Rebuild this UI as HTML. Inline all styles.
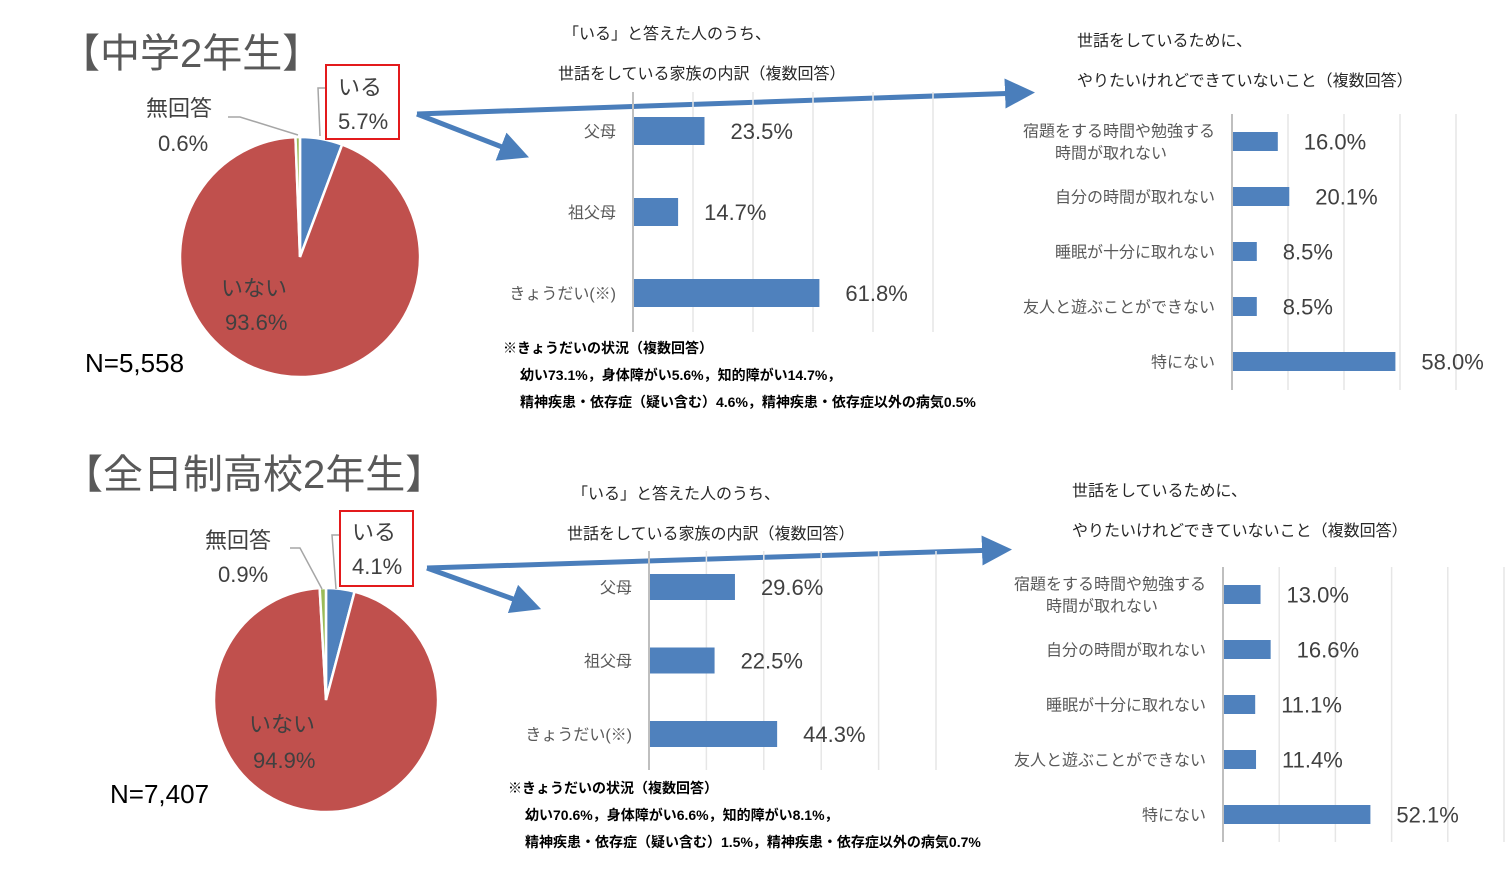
<!DOCTYPE html>
<html><head><meta charset="utf-8"><style>
html,body{margin:0;padding:0;background:#fff;}
svg{display:block;font-family:"Liberation Sans","Noto Sans CJK JP",sans-serif;}
.cat{font-size:16px;fill:#595959;}
.val{font-size:22px;fill:#404040;}
.hd{font-size:16px;fill:#262626;}
.note{font-size:14px;font-weight:bold;fill:#000;}
.ttl{font-size:40px;fill:#595959;}
.pl{font-size:22px;fill:#404040;}
</style></head><body>
<svg id="c" width="1509" height="872" viewBox="0 0 1509 872">
<defs><marker id="ah" markerWidth="6" markerHeight="6" refX="3" refY="3" orient="auto" markerUnits="strokeWidth"><path d="M0,0 L6,3 L0,6 Z" fill="#4a7ebb"/></marker></defs>
<g>
<text class="ttl" x="60" y="67">【中学2年生】</text>
<text x="85" y="372" font-size="26" fill="#000">N=5,558</text>
<text class="hd" x="563" y="39">「いる」と答えた人のうち、</text>
<text class="hd" x="558" y="79">世話をしている家族の内訳（複数回答）</text>
<text class="hd" x="1077" y="46">世話をしているために、</text>
<text class="hd" x="1077" y="86">やりたいけれどできていないこと（複数回答）</text>
<text class="note" x="503" y="353">※きょうだいの状況（複数回答）</text>
<text class="note" x="520" y="380">幼い73.1%，身体障がい5.6%，知的障がい14.7%，</text>
<text class="note" x="520" y="407">精神疾患・依存症（疑い含む）4.6%，精神疾患・依存症以外の病気0.5%</text>
</g>
<g>
<text class="ttl" x="63" y="488">【全日制高校2年生】</text>
<text x="110" y="803" font-size="26" fill="#000">N=7,407</text>
<text class="hd" x="572" y="499">「いる」と答えた人のうち、</text>
<text class="hd" x="567" y="539">世話をしている家族の内訳（複数回答）</text>
<text class="hd" x="1072" y="496">世話をしているために、</text>
<text class="hd" x="1072" y="536">やりたいけれどできていないこと（複数回答）</text>
<text class="note" x="508" y="793">※きょうだいの状況（複数回答）</text>
<text class="note" x="525" y="820">幼い70.6%，身体障がい6.6%，知的障がい8.1%，</text>
<text class="note" x="525" y="847">精神疾患・依存症（疑い含む）1.5%，精神疾患・依存症以外の病気0.7%</text>
</g>
<g>
<line x1="417" y1="114" x2="515" y2="152" stroke="#4a7ebb" stroke-width="5" marker-end="url(#ah)"/>
<line x1="417" y1="114" x2="1020" y2="93" stroke="#4a7ebb" stroke-width="5" marker-end="url(#ah)"/>
<line x1="427" y1="568" x2="527" y2="604" stroke="#4a7ebb" stroke-width="5" marker-end="url(#ah)"/>
<line x1="427" y1="568" x2="997" y2="550" stroke="#4a7ebb" stroke-width="5" marker-end="url(#ah)"/>
</g>
</svg>
<script>
const pieLabels=["いる","いない","無回答"];
const pieColors=["#4f81bd","#c0504d","#9bbb59"];
const pieMS=[5.7,93.6,0.6];
const pieHS=[4.1,94.9,0.9];
const famCats=["父母","祖父母","きょうだい(※)"];
const famMS=[23.5,14.7,61.8];
const famHS=[29.6,22.5,44.3];
const impCats=["宿題をする時間や勉強する|時間が取れない","自分の時間が取れない","睡眠が十分に取れない","友人と遊ぶことができない","特にない"];
const impMS=[16.0,20.1,8.5,8.5,58.0];
const impHS=[13.0,16.6,11.1,11.4,52.1];
const gridTicks=[0,20,40,60,80,100];

const svg=document.getElementById('c');
const NS="http://www.w3.org/2000/svg";
function mk(tag,attrs,parent){const e=document.createElementNS(NS,tag);for(const k in attrs)e.setAttribute(k,attrs[k]);(parent||svg).appendChild(e);return e;}

function pie(cx,cy,r,vals,g){
  let a=0;const tot=vals.reduce((s,v)=>s+v,0);
  vals.forEach((v,i)=>{
    const a0=a/tot*2*Math.PI,a1=(a+v)/tot*2*Math.PI;a+=v;
    const x0=cx+r*Math.sin(a0),y0=cy-r*Math.cos(a0),x1=cx+r*Math.sin(a1),y1=cy-r*Math.cos(a1);
    const p=mk('path',{d:`M${cx},${cy} L${x0},${y0} A${r},${r} 0 ${a1-a0>Math.PI?1:0} 1 ${x1},${y1} Z`,fill:pieColors[i],stroke:'#fff','stroke-width':2.5},g);
    
    
  });
}
function bars(x0,x1,yTop,yBot,firstY,step,bh,cats,vals,labelX,gridTop,gridBot,g,catSize){
  const sx=v=>x0+(x1-x0)*v/100;
  gridTicks.forEach(t=>{
    const l=mk('line',{x1:sx(t),x2:sx(t),y1:gridTop,y2:gridBot,stroke:t===0?'#bfbfbf':'#e6e6e6','stroke-width':t===0?2:1.5},g);
    
    
  });
  vals.forEach((v,i)=>{
    const y=firstY+i*step;
    const b=mk('rect',{x:sx(0)+1,y:y,width:sx(v)-sx(0),height:bh,fill:'#4f81bd'},g);
    
    
    const t=mk('text',{x:sx(v)+27,y:y+bh/2+8,class:'val'},g);t.textContent=v.toFixed(1)+'%';
    
    
    const parts=cats[i].split('|');
    parts.forEach((p,j)=>{
      const c=mk('text',{x:labelX,y:y+bh/2+6+(j-(parts.length-1)/2)*22,class:'cat','text-anchor':parts.length>1&&j===1?'middle':'end'},g);
      if(parts.length>1&&j===1)c.setAttribute('x',labelX-104);
      c.textContent=p;
      
      
    });
  });
}
function pieText(items,g){items.forEach(([s,x,y,cls,sz,nm])=>{const t=mk('text',{x:x,y:y,class:cls,'font-size':sz},g);t.textContent=s;
  
  });}

// middle school
const g1=mk('g',{});


pie(300,257,120,pieMS,g1);
mk('polyline',{points:'228,117 240,117 298,135',fill:'none',stroke:'#a6a6a6','stroke-width':1.5},g1);
mk('polyline',{points:'326,88 318,88 320,136',fill:'none',stroke:'#a6a6a6','stroke-width':1.5},g1);
mk('rect',{x:326,y:65,width:73,height:74,fill:'#fff',stroke:'#e31a1c','stroke-width':2},g1);
pieText([[pieLabels[0],338,95,'pl',24,'caring-label'],[pieMS[0].toFixed(1)+'%',338,129,'pl',22,'caring-value'],
 [pieLabels[2],146,116,'pl',24,'no-answer-label'],[pieMS[2].toFixed(1)+'%',158,151,'pl',22,'no-answer-value'],
 [pieLabels[1],221,296,'pl',24,'not-caring-label'],[pieMS[1].toFixed(1)+'%',225,330,'pl',22,'not-caring-value']],g1);
const b1=mk('g',{});
bars(633,933,0,0,117,81,28,famCats,famMS,616,92,332,b1);
const b2=mk('g',{});
bars(1232,1512,0,0,132,55,19,impCats,impMS,1215,114,390,b2);

// high school
const g2=mk('g',{});


pie(326,700,112,pieHS,g2);
mk('polyline',{points:'290,548 300,548 322,589',fill:'none',stroke:'#a6a6a6','stroke-width':1.5},g2);
mk('polyline',{points:'340,535 332,535 336,589',fill:'none',stroke:'#a6a6a6','stroke-width':1.5},g2);
mk('rect',{x:340,y:511,width:73,height:75,fill:'#fff',stroke:'#e31a1c','stroke-width':2},g2);
pieText([[pieLabels[0],352,540,'pl',24,'caring-label'],[pieHS[0].toFixed(1)+'%',352,574,'pl',22,'caring-value'],
 [pieLabels[2],205,548,'pl',24,'no-answer-label'],[pieHS[2].toFixed(1)+'%',218,582,'pl',22,'no-answer-value'],
 [pieLabels[1],249,732,'pl',24,'not-caring-label'],[pieHS[1].toFixed(1)+'%',253,768,'pl',22,'not-caring-value']],g2);
const b3=mk('g',{});
bars(649,936,0,0,574,73.5,26,famCats,famHS,632,551,770,b3);
const b4=mk('g',{});
bars(1223,1504,0,0,585,55,19,impCats,impHS,1206,567,842,b4);
</script>
</body></html>
